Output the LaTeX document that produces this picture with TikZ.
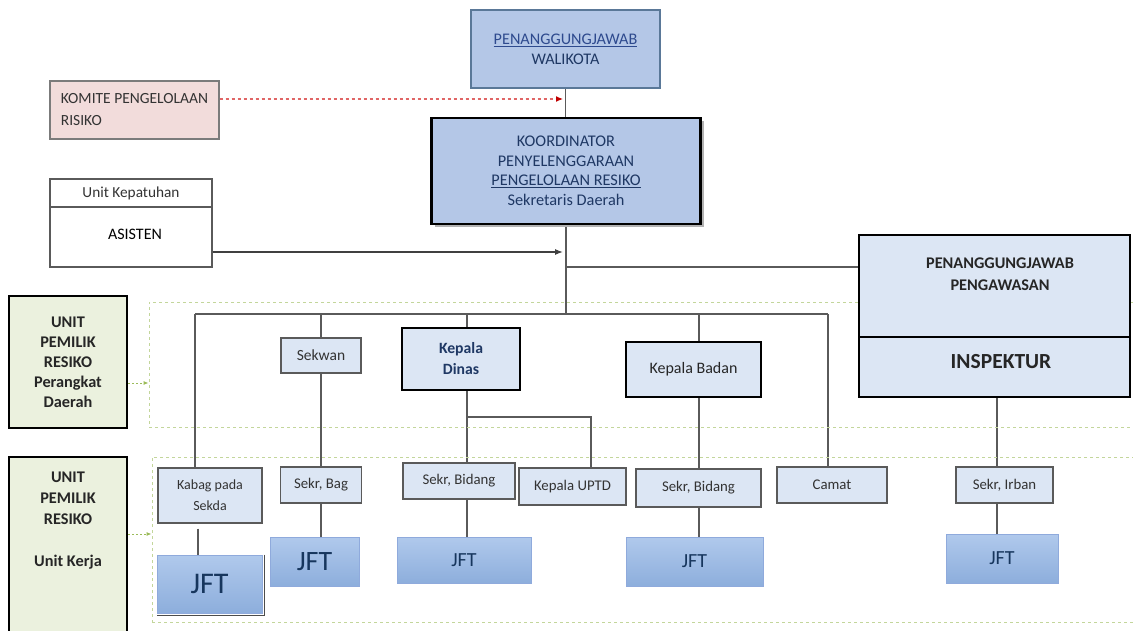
\documentclass[tikz,border=0pt]{standalone}
\usepackage{fontspec}
\setmainfont{Carlito}
\usetikzlibrary{arrows.meta,shadings}
\pgfdeclarelayer{bg}
\pgfdeclarelayer{bgbase}
\pgfsetlayers{bgbase,bg,main}
\definecolor{cFillA}{HTML}{B4C7E7}
\definecolor{cFillL}{HTML}{DCE6F4}
\definecolor{cBorderA}{HTML}{5A7898}
\definecolor{cGray}{HTML}{5A5A5A}
\definecolor{cNavy}{HTML}{1F3864}
\definecolor{cBlueU}{HTML}{2E4A8E}
\definecolor{cPink}{HTML}{F2DCDB}
\definecolor{cGreenF}{HTML}{EBF1DE}
\definecolor{cGreenD}{HTML}{C3D69B}
\definecolor{cGreenA}{HTML}{9BBB59}
\definecolor{cJtop}{HTML}{B0C9EC}
\definecolor{cJbot}{HTML}{8DAEDC}
\definecolor{cJbd}{HTML}{8FAADC}
\definecolor{cJtxt}{HTML}{17365D}
\definecolor{cRed}{HTML}{E06666}
\definecolor{cRedT}{HTML}{C00000}
\definecolor{cTxt}{HTML}{333333}
\newcommand\myfs[2]{\fontsize{#1}{#2}\selectfont}
\begin{document}
\begin{tikzpicture}[x=1pt,y=-1pt,
  base/.style={rectangle, align=center, inner sep=2pt},
  lbox/.style={base, draw=cGray, line width=1.3pt, fill=cFillL, text=cTxt, font=\myfs{15.5}{19}},
  tbox/.style={base, draw=black, line width=2.4pt, fill=cFillL},
  gbox/.style={base, draw=black, line width=2.4pt, fill=cGreenF},
  jftbox/.style={base, draw=cJbd, line width=0.6pt, top color=cJtop, bottom color=cJbot, text=cJtxt},
  region/.style={base, draw=cGreenD, line width=0.9pt, dash pattern=on 3pt off 3pt},
  conn/.style={draw=cGray, line width=1.3pt},
  garrow/.style={draw=cGreenA, line width=0.9pt, dash pattern=on 2pt off 2pt, -{Latex[length=5pt,width=4pt]}},
  plain/.style={base, inner sep=0pt}
]
\clip (0,0) rectangle (1133,631);
\begin{pgfonlayer}{bgbase}
\fill[white] (0,0) rectangle (1133,631);
\end{pgfonlayer}

% dashed regions
\node[region, minimum width=991pt, minimum height=125pt] (reg1) at (644.5,364.5) {};
\node[region, minimum width=988pt, minimum height=165pt] (reg2) at (646,539.5) {};

% top nodes
\node[base, draw=cBorderA, line width=1.4pt, fill=cFillA, minimum width=189pt, minimum height=78pt, text=cNavy, font=\myfs{16.2}{20}] (wali) at (565.5,49)
  {\textcolor{cBlueU}{\underline{PENANGGUNGJAWAB}}\\WALIKOTA};
\node[base, draw=cGray!80, line width=1.2pt, fill=cPink, minimum width=169pt, minimum height=58pt, align=left, text=cTxt, font=\myfs{15.5}{22}] (komite) at (134.5,110)
  {KOMITE PENGELOLAAN\\RISIKO};
\fill[gray!60] (434.5,121) rectangle (703.5,227);
\node[base, draw=black, line width=2.4pt, fill=cFillA, minimum width=269pt, minimum height=106pt, text=cNavy, font=\myfs{16.3}{19.5}] (koord) at (566,171)
  {KOORDINATOR\\PENYELENGGARAAN\\\underline{PENGELOLAAN RESIKO}\\Sekretaris Daerah};
\node[lbox, fill=white, minimum width=162pt, minimum height=28pt, font=\myfs{15.3}{17}] (kephead) at (131,193) {Unit Kepatuhan};
\node[lbox, fill=white, minimum width=162pt, minimum height=60pt, text=black, font=\myfs{16}{18}] (asisten) at (131,237) {};
\node[plain, text=black, font=\myfs{16}{18}] (asistentxt) at (135,234) {ASISTEN};

% pengawasan
\node[tbox, minimum width=271pt, minimum height=102pt] (peng) at (994.5,286) {};
\node[plain, font=\bfseries\myfs{16.3}{22}, text=black!85] (pengtxt) at (1000,274) {PENANGGUNGJAWAB\\PENGAWASAN};
\node[tbox, minimum width=271pt, minimum height=60pt] (insp) at (994.5,367) {};
\node[plain, font=\bfseries\myfs{21.5}{24}, text=black!85] (insptxt) at (1001,362) {INSPEKTUR};

% green boxes
\node[gbox, minimum width=118pt, minimum height=132pt, font=\bfseries\myfs{16.3}{20}, text=black!85] (green1) at (68,362)
  {UNIT\\PEMILIK\\RESIKO\\Perangkat\\Daerah};
\node[gbox, minimum width=118pt, minimum height=188pt] (green2) at (68,551) {};
\node[plain, font=\bfseries\myfs{16.3}{21}, text=black!85] (green2txt) at (68,521)
  {UNIT\\PEMILIK\\RESIKO\\[21pt]Unit Kerja};

% level 1
\node[lbox, minimum width=80pt, minimum height=35pt] (sekwan) at (321,355.5) {Sekwan};
\node[tbox, minimum width=118pt, minimum height=62pt, font=\bfseries\myfs{15.7}{21}, text=cNavy] (dinas) at (461,359) {Kepala\\Dinas};
\node[tbox, minimum width=135pt, minimum height=55pt, font=\myfs{16}{19}, text=black!85] (badan) at (693.5,369.5) {Kepala Badan};

% level 2
\node[lbox, minimum width=104pt, minimum height=55pt, font=\myfs{14}{21}] (kabag) at (210,495.5) {Kabag pada\\Sekda};
\node[lbox, minimum width=81pt, minimum height=36pt, font=\myfs{14.8}{18}] (sekrbag) at (321,485) {Sekr, Bag};
\node[lbox, minimum width=112pt, minimum height=36pt, font=\myfs{14.8}{18}] (sb1) at (459,481) {Sekr, Bidang};
\node[lbox, minimum width=107pt, minimum height=37pt, font=\myfs{14.8}{18}] (uptd) at (572.5,486.5) {Kepala UPTD};
\node[lbox, minimum width=125pt, minimum height=38pt, font=\myfs{14.8}{18}] (sb2) at (698.5,488) {Sekr, Bidang};
\node[lbox, minimum width=110pt, minimum height=36pt, font=\myfs{14.8}{18}] (camat) at (832,485) {Camat};
\node[lbox, minimum width=97pt, minimum height=36pt, font=\myfs{14.8}{18}] (irban) at (1004.5,485) {Sekr, Irban};

% JFT
\node[jftbox, minimum width=105pt, minimum height=58pt, font=\myfs{30}{30}] (jft1) at (209.5,584) {JFT};
\node[jftbox, minimum width=89pt, minimum height=49pt, font=\myfs{28}{28}] (jft2) at (314.5,561.5) {JFT};
\node[jftbox, minimum width=134pt, minimum height=46pt, font=\myfs{20}{20}] (jft3) at (464,560) {JFT};
\node[jftbox, minimum width=137pt, minimum height=49pt, font=\myfs{20}{20}] (jft4) at (694.5,561.5) {JFT};
\node[jftbox, minimum width=112pt, minimum height=49pt, font=\myfs{20}{20}] (jft5) at (1002,558.5) {JFT};

% coordinates
\coordinate (j0) at (566,99);
\coordinate (j1) at (566,252);
\coordinate (j2) at (566,267);
\coordinate (busL) at (195,314);
\coordinate (busM) at (566,314);
\coordinate (busR) at (828,314);
\coordinate (dx) at (467,314);
\coordinate (bx) at (699,314);
\coordinate (br) at (467,417);
\coordinate (br2) at (591,417);
\coordinate (ix) at (997,0);
\coordinate (kx) at (198,0);
\path ([yshift=-5pt]kabag.south) coordinate (kb);

\begin{pgfonlayer}{bg}
\draw[conn] (wali.south) -- (wali.south |- koord.north);
\draw[conn] (koord.south) -- (busM);
\draw[conn] (busL) -- (busR);
\draw[conn] (j2) -- (j2 -| peng.west);
\draw[conn] (busL) -- (busL |- kabag.north);
\draw[conn] (kb -| kx) -- (kx |- jft1.north);
\draw[conn] (sekwan.north |- busM) -- (sekwan.north);
\draw[conn] (sekwan.south) -- (sekrbag.north);
\draw[conn] (sekrbag.south) -- (sekrbag.south |- jft2.north);
\draw[conn] (dx) -- (dx |- dinas.north);
\draw[conn] (dx |- dinas.south) -- (dx |- sb1.north);
\draw[conn] (dx |- sb1.south) -- (dx |- jft3.north);
\draw[conn] (br) -- (br2) -- (br2 |- uptd.north);
\draw[conn] (bx) -- (bx |- badan.north);
\draw[conn] (bx |- badan.south) -- (bx |- sb2.north);
\draw[conn] (bx |- sb2.south) -- (bx |- jft4.north);
\draw[conn] (busR) -- (busR |- camat.north);
\draw[conn] (ix |- insp.south) -- (ix |- irban.north);
\draw[conn] (ix |- irban.south) -- (ix |- jft5.north);
\draw[black!70, line width=1pt] ([xshift=2pt]jft1.north east) -- ([xshift=2pt,yshift=-2pt]jft1.south east) -- ([yshift=-2pt]jft1.south west);
\end{pgfonlayer}

% arrows
\draw[draw=black!75, line width=1.3pt, -{Latex[length=8pt,width=6pt]}] ([yshift=-15pt]asisten.east) -- ([xshift=-3pt]j1);
\draw[draw=cRed, line width=1.2pt, dash pattern=on 3pt off 3pt, -{Latex[length=7pt,width=6pt,fill=cRedT,color=cRedT]}] ([yshift=11pt]komite.east) -- ([xshift=-3pt]j0);
\draw[garrow] ([yshift=-21pt]green1.east) -- ([yshift=-21pt]green1.east -| reg1.west);
\draw[garrow] ([yshift=17pt]green2.east) -- ([yshift=17pt]green2.east -| reg2.west);
\end{tikzpicture}
\end{document}
